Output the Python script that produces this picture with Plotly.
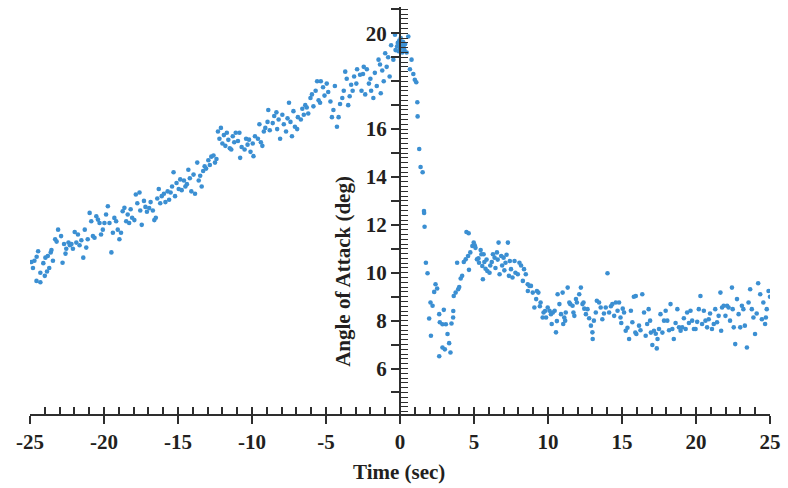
import plotly.graph_objects as go

# ---- data: time (s) and angle of attack (deg) ----
t_climb = [
    -24.9, -24.8, -24.7, -24.56, -24.55, -24.45, -24.3, -24.3, -24.1, -24.0,
    -23.96, -23.85, -23.8, -23.7, -23.6, -23.55, -23.45, -23.3, -23.2, -23.1,
    -22.9, -22.8, -22.7, -22.6, -22.55, -22.4, -22.3, -22.2, -22.1, -21.98,
    -21.87, -21.76, -21.65, -21.53, -21.4, -21.3, -21.2, -21.1, -20.97, -20.86,
    -20.75, -20.64, -20.52, -20.41, -20.3, -20.2, -20.08, -19.97, -19.86, -19.74,
    -19.63, -19.5, -19.4, -19.3, -19.18, -19.07, -18.96, -18.85, -18.74, -18.62,
    -18.5, -18.4, -18.3, -18.2, -18.1, -17.95, -17.85, -17.75, -17.6, -17.55,
    -17.45, -17.3, -17.2, -17.1, -16.95, -16.85, -16.7, -16.6, -16.5, -16.4,
    -16.3, -16.2, -16.1, -15.95, -15.85, -15.7, -15.6, -15.5, -15.4, -15.3,
    -15.2, -15.1, -14.95, -14.85, -14.75, -14.6, -14.5, -14.4, -14.3, -14.2,
    -14.1, -13.95, -13.85, -13.7, -13.6, -13.5, -13.4, -13.3, -13.2, -13.1,
    -12.95, -12.85, -12.75, -12.6, -12.5, -12.4, -12.3, -12.2, -12.1, -12.0,
    -11.9, -11.8, -11.7, -11.6, -11.5, -11.4, -11.3, -11.2, -11.1, -10.95,
    -10.85, -10.8, -10.7, -10.5, -10.4, -10.3, -10.2, -10.1, -9.95, -9.9,
    -9.8, -9.6, -9.5, -9.4, -9.3, -9.2, -9.1, -8.95, -8.9, -8.8,
    -8.6, -8.5, -8.35, -8.3, -8.2, -8.1, -7.95, -7.85, -7.7, -7.6,
    -7.5, -7.4, -7.3, -7.2, -7.1, -6.95, -6.9, -6.7, -6.6, -6.5,
    -6.4, -6.3, -6.2, -6.05, -5.95, -5.85, -5.7, -5.6, -5.5, -5.4,
    -5.35, -5.2, -5.1, -4.95, -4.85, -4.7, -4.6, -4.5, -4.4, -4.26,
    -4.15, -4.05, -3.9, -3.8, -3.7, -3.6, -3.5, -3.4, -3.3, -3.2,
    -3.1, -2.95, -2.9, -2.7, -2.6, -2.5, -2.45, -2.35, -2.24, -2.1,
    -2.0, -1.95, -1.8, -1.7, -1.57, -1.45, -1.35, -1.3, -1.2, -1.1,
    -1.0, -0.9, -0.8, -0.7, -0.6, -0.45, -0.34, -0.3, -0.2, -0.15,
    -0.1, -0.05,
]
aoa_climb = [
    10.45, 10.2, 10.5, 9.66, 10.67, 10.9, 10.0, 9.6, 10.4, 9.87,
    10.63, 10.05, 10.7, 10.2, 10.85, 10.95, 10.5, 11.4, 11.3, 11.8,
    11.53, 10.42, 11.2, 10.8, 11.0, 11.26, 11.15, 11.2, 11.0, 11.7,
    11.26, 11.6, 11.15, 11.36, 10.63, 11.8, 11.05, 11.4, 12.5, 12.15,
    11.53, 11.46, 12.36, 12.22, 12.08, 11.6, 11.8, 12.08, 12.43, 12.78,
    12.08, 10.85, 11.67, 12.29, 12.15, 11.8, 11.4, 11.67, 12.57, 12.71,
    12.15, 12.43, 12.08, 12.65, 12.3, 12.2, 13.27, 12.9, 13.35, 12.6,
    12.0, 13.0, 12.75, 12.55, 12.7, 12.95, 12.6, 12.2, 12.3, 13.1,
    13.5, 12.9, 13.2, 13.3, 12.95, 13.4, 13.05, 13.35, 13.6, 14.2,
    13.2, 13.75, 13.5, 13.9, 13.45, 13.85, 13.6, 13.7, 14.3, 13.95,
    13.4, 14.1, 13.3, 14.6, 13.85, 14.05, 13.6, 14.25, 14.45, 14.35,
    14.7, 14.5, 14.85, 14.9, 14.6, 14.75, 15.9, 15.6, 16.05, 15.4,
    15.75, 15.3, 15.85, 15.55, 15.2, 15.15, 15.7, 15.45, 15.85, 15.5,
    15.85, 14.8, 15.25, 15.15, 15.6, 15.35, 15.56, 15.05, 15.4, 14.87,
    15.7, 15.6, 16.2, 15.45, 15.3, 15.9, 16.05, 16.3, 16.8, 15.95,
    16.25, 16.55, 16.7, 16.0, 16.4, 15.6, 16.6, 16.2, 15.9, 16.45,
    17.1, 16.3, 15.7, 16.75, 16.1, 16.0, 16.5, 16.4, 16.85, 16.6,
    17.0, 16.9, 16.65, 17.3, 17.45, 16.95, 17.6, 18.0, 17.2, 17.1,
    18.0, 17.75, 17.4, 17.9, 17.55, 17.15, 16.5, 16.8, 17.8, 16.1,
    16.5, 17.05, 17.3, 17.6, 18.4, 18.1, 17.0, 17.37, 17.85, 17.6,
    18.2, 17.9, 18.5, 18.27, 17.6, 18.3, 18.6, 17.45, 18.5, 17.9,
    18.1, 17.6, 17.3, 18.35, 17.8, 18.9, 18.7, 17.5, 18.45, 18.0,
    19.17, 18.6, 19.0, 18.2, 19.5, 18.9, 19.94, 19.3, 19.45, 19.6,
    19.25, 19.7,
]

t_drop = [
    0.0, 0.05, 0.1, 0.15, 0.2, 0.25, 0.3, 0.35, 0.45, 0.56,
    0.67, 0.78, 0.9, 1.0, 1.1, 1.17, 1.19, 1.3, 1.39, 1.53,
    1.62, 1.63, 1.66, 1.75, 1.86, 1.97, 2.06, 2.09, 2.2, 2.31,
    2.4, 2.51, 2.65, 2.65, 2.69, 2.87, 2.87, 2.96, 3.03, 3.1,
    3.21, 3.32, 3.41, 3.48, 3.59, 3.6, 3.63, 3.76, 3.86, 3.93,
    4.0, 4.1,
]
aoa_drop = [
    19.35, 19.8, 19.5, 19.2, 19.65, 19.4, 19.3, 19.55, 19.2, 19.87,
    18.5, 18.9, 18.3, 18.06, 17.96, 17.12, 16.53, 15.17, 14.42, 14.2,
    12.58, 12.5, 11.92, 10.42, 9.98, 8.09, 8.76, 7.37, 8.62, 9.2,
    9.52, 9.34, 8.27, 6.51, 7.93, 7.85, 6.88, 8.45, 6.8, 7.85,
    7.44, 7.06, 6.67, 7.88, 8.13, 8.4, 9.03, 9.17, 10.42, 9.31,
    9.4, 9.76,
]

t_recovery = [
    4.2, 4.31, 4.44, 4.49, 4.6, 4.64, 4.66, 4.75, 4.89, 4.98,
    5.05, 5.1, 5.2, 5.3, 5.34, 5.45, 5.5, 5.56, 5.6, 5.65,
    5.7, 5.78, 5.85, 5.9, 6.05, 6.1, 6.2, 6.28, 6.39, 6.45,
    6.55, 6.6, 6.66, 6.73, 6.84, 6.9, 7.0, 7.05, 7.13, 7.2,
    7.29, 7.36, 7.42, 7.5, 7.6, 7.74, 7.8, 7.96, 8.07, 8.18,
    8.3, 8.38, 8.5, 8.63, 8.64, 8.75, 8.85, 8.97, 9.08, 9.2,
    9.25, 9.35, 9.45, 9.5, 9.64, 9.7, 9.8, 9.87, 9.98, 10.1,
    10.2, 10.25, 10.33, 10.45, 10.54, 10.6, 10.65, 10.77, 10.88, 10.99,
    11.03, 11.1, 11.16, 11.2, 11.33, 11.44, 11.5, 11.66, 11.72, 11.78,
    11.89, 11.95, 12.11, 12.22, 12.33, 12.4, 12.45, 12.56, 12.67, 12.78,
    12.9, 13.0, 13.02, 13.1, 13.23, 13.3, 13.45, 13.56, 13.67, 13.78,
    13.9, 14.02, 14.13, 14.25, 14.35, 14.47, 14.58, 14.7, 14.8, 14.9,
    14.95, 15.05, 15.14, 15.25, 15.37, 15.48, 15.6, 15.7, 15.8, 15.9,
    15.93, 15.97, 16.15, 16.25, 16.37, 16.49, 16.6, 16.7, 16.8, 16.9,
    16.95, 17.05, 17.16, 17.28, 17.35, 17.4, 17.5, 17.6, 17.73, 17.84,
    17.95, 18.06, 18.18, 18.28, 18.4, 18.5, 18.62, 18.74, 18.85, 18.96,
    19.07, 19.18, 19.3, 19.4, 19.52, 19.63, 19.74, 19.86, 19.97, 20.08,
    20.19, 20.3, 20.41, 20.53, 20.64, 20.75, 20.86, 20.95, 21.08, 21.2,
    21.3, 21.42, 21.53, 21.65, 21.7, 21.76, 21.87, 21.99, 22.1, 22.2,
    22.3, 22.43, 22.48, 22.55, 22.65, 22.77, 22.88, 22.99, 23.1, 23.2,
    23.3, 23.44, 23.55, 23.66, 23.77, 23.88, 23.99, 24.1, 24.2, 24.34,
    24.45, 24.55, 24.67, 24.72, 24.78, 24.9, 25.0,
]
aoa_recovery = [
    9.87, 10.45, 10.56, 11.7, 10.7, 11.65, 10.12, 10.85, 11.12, 11.26,
    11.15, 11.04, 10.56, 10.6, 10.42, 10.95, 10.77, 10.28, 9.73, 10.77,
    10.45, 10.17, 10.55, 10.07, 10.0, 10.3, 10.45, 10.77, 10.63, 10.2,
    10.85, 10.55, 11.26, 9.94, 10.7, 10.3, 10.63, 10.1, 10.42, 10.75,
    11.26, 9.87, 10.49, 10.15, 9.8, 10.49, 10.0, 9.94, 10.42, 10.3,
    9.66, 10.15, 9.94, 9.52, 9.24, 9.45, 9.45, 9.17, 8.55, 8.9,
    9.24, 9.17, 8.6, 8.76, 8.13, 8.34, 8.4, 8.13, 8.55, 8.41,
    8.27, 7.86, 8.34, 8.41, 7.51, 7.98, 9.1, 8.69, 8.27, 9.17,
    7.86, 8.13, 8.0, 8.34, 9.38, 8.76, 8.69, 8.62, 8.34, 8.2,
    8.9, 8.76, 9.1, 9.38, 8.69, 8.76, 8.5, 8.27, 8.48, 8.1,
    7.79, 7.51, 7.23, 8.0, 8.34, 8.83, 8.76, 8.55, 8.06, 8.3,
    8.55, 9.98, 8.34, 8.6, 8.69, 8.2, 8.76, 8.41, 8.76, 8.13,
    7.9, 8.5, 8.34, 7.58, 7.7, 7.23, 8.41, 7.93, 9.0, 7.5,
    9.03, 7.44, 7.79, 7.6, 9.1, 8.34, 7.37, 7.86, 8.48, 8.0,
    7.5, 6.98, 7.58, 7.45, 6.84, 7.23, 7.65, 8.27, 7.5, 8.0,
    8.41, 8.0, 7.6, 8.69, 7.65, 7.23, 7.9, 8.48, 7.72, 7.58,
    7.72, 8.1, 7.65, 8.34, 7.9, 8.41, 8.0, 7.65, 7.65, 7.95,
    8.48, 9.03, 7.86, 8.41, 8.0, 7.72, 8.06, 8.3, 7.65, 7.86,
    8.48, 7.93, 8.2, 9.17, 7.58, 8.55, 8.62, 8.2, 8.62, 8.55,
    8.0, 9.38, 8.48, 7.72, 7.02, 8.9, 8.27, 7.72, 8.62, 8.48,
    7.79, 6.88, 8.76, 9.31, 8.48, 8.13, 7.44, 8.3, 9.56, 9.1,
    8.06, 8.76, 7.86, 8.13, 8.48, 9.24, 9.0,
]

x_tick_vals = [-25, -20, -15, -10, -5, 0, 5, 10, 15, 20, 25]
x_tick_text = ["-25", "-20", "-15", "-10", "-5", "0", "5", "10", "15", "20", "25"]
y_tick_vals = [5, 6, 7, 8, 9, 10, 11, 12, 13, 14, 15, 16, 17, 18, 19, 20, 21]
y_tick_text = ["", "6", "", "8", "", "10", "", "12", "", "14", "", "16", "", "", "", "20", ""]
x_minor_vals = list(range(-25, 26))

x_title = "Time (sec)"
y_title = "Angle of Attack (deg)"

# ---- styling ----
FONT = "Liberation Serif"
TXT = "#231f20"
AX = "#2e2e2e"
DOT = "#3b8fd2"
X_RANGE = [-25, 25]
Y_RANGE = [4.1, 21.1]
FS = 21

t_all = t_climb + t_drop + t_recovery
aoa_all = aoa_climb + aoa_drop + aoa_recovery

fig = go.Figure()
fig.add_trace(go.Scatter(
    x=t_all, y=aoa_all, mode="markers",
    marker=dict(color=DOT, size=4.6, line=dict(width=0)),
    showlegend=False, hoverinfo="skip",
))
# invisible trace on the overlay axis so it is drawn
fig.add_trace(go.Scatter(x=[0], y=[10], xaxis="x2", mode="markers",
                         marker=dict(opacity=0), showlegend=False, hoverinfo="skip"))

tickfont = dict(family=FONT, size=FS, color=TXT, weight="bold")

fig.update_layout(
    width=788, height=488,
    margin=dict(l=30, r=15, t=7, b=74),
    paper_bgcolor="white", plot_bgcolor="white",
    xaxis=dict(
        range=X_RANGE, showgrid=False, zeroline=False,
        showline=True, linecolor=AX, linewidth=2,
        tickmode="array", tickvals=x_tick_vals, ticktext=x_tick_text,
        ticks="outside", ticklen=8, tickwidth=2, tickcolor=AX,
        tickfont=tickfont,
    ),
    xaxis2=dict(
        range=X_RANGE, overlaying="x", anchor="y", side="bottom",
        showgrid=False, zeroline=False, showline=False,
        tickmode="array", tickvals=x_minor_vals, ticks="inside",
        ticklen=7, tickwidth=1.5, tickcolor=AX, showticklabels=False,
    ),
    yaxis=dict(
        range=Y_RANGE, showgrid=False, zeroline=False,
        anchor="free", position=0.5, side="left",
        showline=True, linecolor=AX, linewidth=2,
        tickmode="array", tickvals=y_tick_vals, ticktext=y_tick_text,
        ticks="outside", ticklen=8, tickwidth=2, tickcolor=AX,
        tickfont=tickfont,
        minor=dict(tick0=0, dtick=0.2, ticks="inside", ticklen=7,
                   tickwidth=1.3, tickcolor=AX, showgrid=False),
    ),
    annotations=[
        dict(text=x_title, xref="paper", yref="paper", x=0.498, y=-0.142,
             xanchor="center", yanchor="middle", showarrow=False,
             font=dict(family=FONT, size=FS, color=TXT, weight="bold")),
        dict(text=y_title, xref="paper", yref="paper", x=0.422, y=0.35,
             xanchor="center", yanchor="middle", showarrow=False, textangle=-90,
             font=dict(family=FONT, size=FS, color=TXT, weight="bold")),
    ],
)

fig.write_html("out.html")
